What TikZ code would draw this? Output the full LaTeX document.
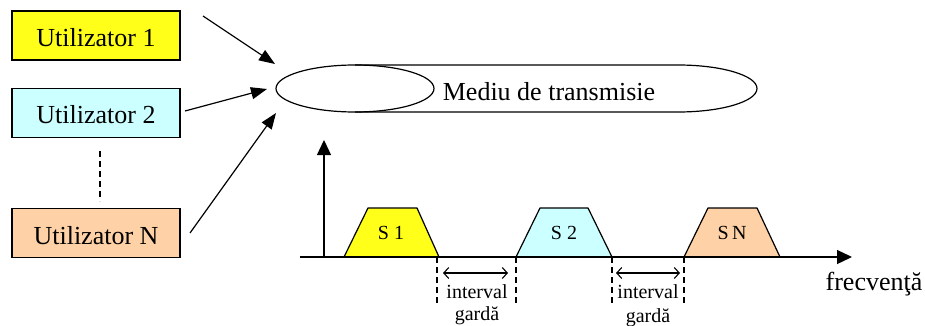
\documentclass[tikz,border=0pt]{standalone}
\usepackage{fontspec}
\setmainfont{Liberation Serif}
\usetikzlibrary{arrows.meta,shapes.geometric}
\definecolor{uyellow}{HTML}{FFFF1A}
\definecolor{ucyan}{HTML}{CCFFFF}
\definecolor{upeach}{HTML}{FFD1A6}
\begin{document}
\begin{tikzpicture}[x=1pt,y=-1pt,line width=1.2pt,
  userbox/.style={draw,line width=1.3pt,minimum width=168pt,minimum height=49pt,inner sep=0pt,
    text height=22pt,text depth=0pt,font=\fontsize{26}{30}\selectfont},
  feed/.style={-{Triangle[length=16pt,width=12pt]},line width=1.2pt},
  axisline/.style={-{Triangle[length=15pt,width=14pt]},line width=1.3pt},
  band/.style={draw,line width=1.2pt,line join=round},
  bandlabel/.style={anchor=base,font=\fontsize{20}{24}\selectfont},
  guard/.style={draw,line width=1.1pt,dash pattern=on 6pt off 4pt},
  guardarrow/.style={{Straight Barb[length=5pt,width=11pt]}-{Straight Barb[length=5pt,width=11pt]},line width=1.1pt},
  smalltext/.style={anchor=base,font=\fontsize{20}{24}\selectfont},
  bigtext/.style={anchor=base,font=\fontsize{26}{30}\selectfont}]
\useasboundingbox (0,0) rectangle (925,326);

% users
\node[userbox,fill=uyellow] (u1) at (96,35.5) {Utilizator 1};
\node[userbox,fill=ucyan] (u2) at (96,113) {Utilizator 2};
\node[userbox,fill=upeach] (uN) at (96,233) {Utilizator N};
\draw[line width=1.2pt,dash pattern=on 6pt off 4pt] (u2.south) ++(4,13) coordinate (d1) -- ++(0,50) coordinate (d2);

% transmission medium (horizontal cylinder)
\node[ellipse,draw,line width=1.2pt,minimum width=158pt,minimum height=47pt,inner sep=0pt,outer sep=0pt] (med) at (355,88.5) {};
\coordinate (ct) at (678,65);
\coordinate (cr) at (757,88.5);
\coordinate (cb) at (678,112);
\draw[line width=1.2pt] (med.north) -- (ct)
  .. controls (721.6,65) and (757,75.5) .. (cr)
  .. controls (757,101.5) and (721.6,112) .. (cb) -- (med.south);
\node[bigtext] (medtext) at (549,100) {Mediu de transmisie};

% feed arrows
\coordinate (a1s) at (203,16);  \coordinate (a1e) at (275,64);
\coordinate (a2s) at (185,111); \coordinate (a2e) at (267,89);
\coordinate (a3s) at (190,233); \coordinate (a3e) at (276,113);
\draw[feed] (a1s) -- (a1e);
\draw[feed] (a2s) -- (a2e);
\draw[feed] (a3s) -- (a3e);

% spectrum bands
\draw[band,fill=uyellow] (344,257) -- (368,208) -- (417,208) -- (439,257);
\draw[band,fill=ucyan] (516,257) -- (540,208) -- (588,208) -- (612,257);
\draw[band,fill=upeach] (684,257) -- (708,208) -- (757,208) -- (780,257);
\node[bandlabel] (s1) at (391,239) {S 1};
\node[bandlabel] (s2) at (564,239) {S 2};
\node[bandlabel] (sN) at (732,239) {S\,N};

% axes
\coordinate (o) at (324,257);
\coordinate (ytop) at (324,140);
\coordinate (xl) at (300,257);
\coordinate (xr) at (852,257);
\draw[axisline] (o) -- (ytop);
\draw[axisline] (xl) -- (xr);
\node[bigtext] (freq) at (874,290) {frecvenţă};

% guard intervals
\coordinate (g1a) at (437,257); \coordinate (g1b) at (437,306);
\coordinate (g2a) at (516,257); \coordinate (g2b) at (516,306);
\coordinate (g3a) at (612,257); \coordinate (g3b) at (612,306);
\coordinate (g4a) at (684,257); \coordinate (g4b) at (684,306);
\draw[guard] (g1a) -- (g1b);
\draw[guard] (g2a) -- (g2b);
\draw[guard] (g3a) -- (g3b);
\draw[guard] (g4a) -- (g4b);
\coordinate (h1a) at (443,273); \coordinate (h1b) at (508,273);
\coordinate (h2a) at (616,273); \coordinate (h2b) at (680,273);
\draw[guardarrow] (h1a) -- (h1b);
\draw[guardarrow] (h2a) -- (h2b);
\node[smalltext] (i1) at (477,298) {interval};
\node[smalltext] (i1b) at (477,320) {gardă};
\node[smalltext] (i2) at (648,298) {interval};
\node[smalltext] (i2b) at (648,322) {gardă};
\end{tikzpicture}
\end{document}
